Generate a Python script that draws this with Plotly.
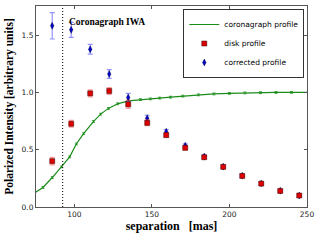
import plotly.graph_objects as go

# Data
sep = [85.75, 98, 110.25, 122.5, 134.75, 147, 159.25, 171.5, 183.75, 196, 208.25, 220.5, 232.75, 245]
disk = [0.40, 0.726, 0.991, 1.012, 0.895, 0.734, 0.627, 0.516, 0.434, 0.35, 0.271, 0.204, 0.14, 0.10]
disk_err = [0.032, 0.03, 0.03, 0.03, 0.035, 0.025, 0.02, 0.015, 0.012, 0.012, 0.012, 0.01, 0.01, 0.01]
corr = [1.58, 1.545, 1.376, 1.16, 0.956, 0.775, 0.656, 0.535, 0.44, 0.352, 0.273, 0.205, 0.142, 0.10]
corr_err = [0.115, 0.065, 0.042, 0.038, 0.035, 0.025, 0.02, 0.015, 0.012, 0.012, 0.012, 0.01, 0.01, 0.01]

coro_x = [73.5, 79.8, 85.8, 91.8, 97, 101.3, 106, 112.3, 117, 122, 127.9, 134.8, 142.6, 149,
          155, 162, 170, 180, 190, 200, 210, 220, 230, 240, 251]
coro_y = [0.115, 0.17, 0.257, 0.35, 0.437, 0.55, 0.64, 0.745, 0.81, 0.86, 0.9, 0.925, 0.937, 0.943,
          0.95, 0.958, 0.967, 0.978, 0.986, 0.991, 0.995, 0.997, 0.999, 1.0, 1.0]
coro_err = [0.008] * len(coro_x)

iwa = 92.5

fig = go.Figure()
fig.add_trace(go.Scatter(
    x=coro_x, y=coro_y, mode="lines", name="coronagraph profile",
    line=dict(color="#1a8c1a", width=1.2),
    error_y=dict(type="data", array=coro_err, color="#1a8c1a", thickness=0.8, width=1.5),
    legendrank=1))
fig.add_trace(go.Scatter(
    x=sep, y=corr, mode="markers", name="corrected profile",
    marker=dict(symbol="diamond-tall", size=5, color="#0000cc", line=dict(color="#000033", width=0.4)),
    error_y=dict(type="data", array=corr_err, color="rgba(60,60,255,0.55)", thickness=1.2, width=2.5),
    legendrank=3))
fig.add_trace(go.Scatter(
    x=sep, y=disk, mode="markers", name="disk profile",
    marker=dict(symbol="square", size=5, color="#e00000", line=dict(color="#330000", width=0.5)),
    error_y=dict(type="data", array=disk_err, color="rgba(255,60,60,0.5)", thickness=1.2, width=2.5),
    legendrank=2))

fig.add_shape(type="line", x0=iwa, x1=iwa, y0=0, y1=1, yref="paper",
              line=dict(color="black", width=1, dash="1px,2px"))
fig.add_annotation(x=95.3, y=1.615, text="<b>Coronagraph IWA</b>", showarrow=False,
                   xanchor="left", yanchor="middle",
                   font=dict(family="Liberation Serif", size=9.5, color="black"))

axis_common = dict(showgrid=False, zeroline=False, showline=True, linecolor="#555",
                   linewidth=1, mirror="allticks", ticks="inside", ticklen=3,
                   tickcolor="#555", tickfont=dict(family="DejaVu Sans", size=7.5, color="#222"))

fig.update_xaxes(range=[75.3, 250], tickvals=[100, 150, 200, 250],
                 title=dict(text="<b>separation   [mas]</b>", standoff=1,
                            font=dict(family="Liberation Serif", size=12, color="black")),
                 **axis_common)
fig.update_yaxes(range=[0, 1.753], tickvals=[0, 0.5, 1.0, 1.5], ticktext=["0.0", "0.5", "1.0", "1.5"],
                 title=dict(text="<b>Polarized Intensity [arbitrary units]</b>", standoff=5,
                            font=dict(family="Liberation Serif", size=11.5, color="black")),
                 **axis_common)

fig.update_layout(
    width=320, height=240,
    margin=dict(l=36, r=13, t=6, b=33, autoexpand=False),
    plot_bgcolor="white", paper_bgcolor="white",
    showlegend=True,
    legend=dict(x=0.99, y=0.985, xanchor="right", yanchor="top",
                bgcolor="white", bordercolor="#333", borderwidth=1,
                font=dict(family="DejaVu Sans", size=7.5, color="black"),
                tracegroupgap=0, itemsizing="trace"),
)

fig.write_html("out.html", config={"displayModeBar": False},
               post_script="document.body.style.margin='0';document.body.style.overflow='hidden';")
